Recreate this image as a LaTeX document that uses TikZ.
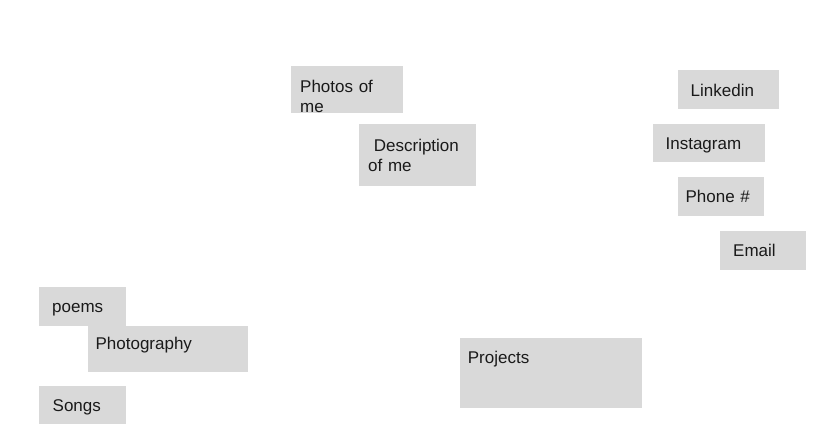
\documentclass[tikz,border=0pt]{standalone}
\usepackage{fontspec}
\setmainfont{Liberation Sans}
\definecolor{tilegray}{HTML}{D9D9D9}
\definecolor{inkgray}{HTML}{1A1A1A}
\tikzset{
  tile/.style={fill=tilegray, text=inkgray, anchor=north west, inner ysep=0pt,
    align=left, font=\fontsize{17}{20}\selectfont},
}
\begin{document}
\begin{tikzpicture}[x=1pt, y=-1pt]
  \useasboundingbox (0,0) rectangle (820,444);

  % About section: nodes
  \node[tile, inner xsep=9pt, text width=94pt, text height=26pt, text depth=21pt]
    (photos) at (291,66) {Photos of\\me};
  \node[tile, inner xsep=9pt, text width=99pt, text height=27pt, text depth=35pt]
    (descr) at (359,124) {~Description\\of me};

  % Contact section: nodes
  \node[tile, inner xsep=12.5pt, text width=76pt, text height=26pt, text depth=13pt]
    (linkedin) at (678,70) {Linkedin};
  \node[tile, inner xsep=12.4pt, text width=87.2pt, text height=25pt, text depth=13pt]
    (insta) at (653,124) {Instagram};
  \node[tile, inner xsep=7.4pt, text width=71.2pt, text height=25pt, text depth=14pt]
    (phone) at (678,177) {Phone \#};
  \node[tile, inner xsep=13pt, text width=60pt, text height=25.5pt, text depth=13.5pt]
    (email) at (720,231) {Email};

  % Work section: nodes
  \node[tile, inner xsep=13pt, text width=61pt, text height=25.6pt, text depth=13.4pt]
    (poems) at (39,287) {poems};
  \node[tile, inner xsep=7.4pt, text width=145.2pt, text height=23pt, text depth=23pt]
    (photog) at (88,326) {Photography};
  \node[tile, inner xsep=13.5pt, text width=60pt, text height=25pt, text depth=13pt]
    (songs) at (39,386) {Songs};
  \node[tile, inner xsep=7.7pt, text width=166.6pt, text height=25pt, text depth=45pt]
    (projects) at (460,338) {Projects};
\end{tikzpicture}
\end{document}
